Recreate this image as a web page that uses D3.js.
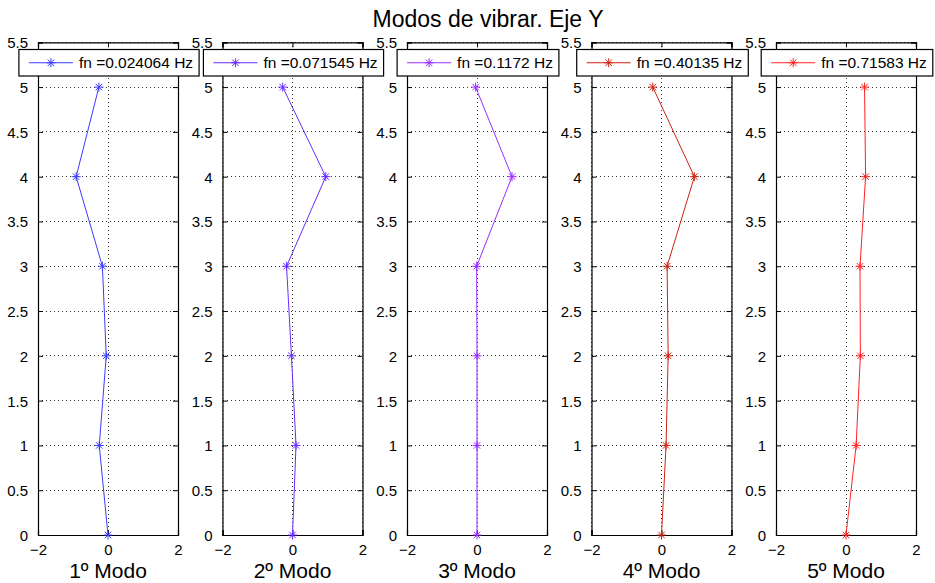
<!DOCTYPE html>
<html><head><meta charset="utf-8">
<script src="https://cdn.jsdelivr.net/npm/d3@7"></script>
<style>
body{margin:0;background:#fff}
text{font-family:"Liberation Sans",Arial,Helvetica,sans-serif;fill:#000}
</style>
</head><body>
<svg id="c" width="935" height="583"></svg>
<script>
const title = "Modos de vibrar. Eje Y";
const floors = [0, 1, 2, 3, 4, 5];
const modeLabels = ["1º Modo", "2º Modo", "3º Modo", "4º Modo", "5º Modo"];
const legendLabels = ["fn =0.024064 Hz", "fn =0.071545 Hz", "fn =0.1172 Hz", "fn =0.40135 Hz", "fn =0.71583 Hz"];
const mode1 = [0, -0.25, -0.05, -0.16, -0.91, -0.26];
const mode2 = [0, 0.10, -0.03, -0.17, 0.95, -0.28];
const mode3 = [0, 0, 0, -0.01, 1.00, -0.04];
const mode4 = [0, 0.13, 0.19, 0.16, 0.94, -0.25];
const mode5 = [0, 0.29, 0.41, 0.40, 0.56, 0.53];
const modes = [mode1, mode2, mode3, mode4, mode5];
const colors = ["#3b3bff", "#6a2cff", "#9a2cff", "#cc2211", "#ff2222"];
const xTicks = [-2, 0, 2];
const yTicks = [0, 0.5, 1, 1.5, 2, 2.5, 3, 3.5, 4, 4.5, 5, 5.5];

const svg = d3.select("#c");
const axTop = 42.3, axBottom = 535, axW = 140, firstLeft = 38, step = 184.5;

const y = d3.scaleLinear().domain([0, 5.5]).range([axBottom, axTop]);

svg.append("text").attr("x", 488).attr("y", 27).attr("text-anchor", "middle")
  .style("font-size", "23px").text(title);

const star = (s) => {
  const d = s * 0.72;
  return `M${-s},0L${s},0M0,${-s}L0,${s}M${-d},${-d}L${d},${d}M${-d},${d}L${d},${-d}`;
};

modes.forEach((vals, i) => {
  const left = firstLeft + i * step;
  const x = d3.scaleLinear().domain([-2, 2]).range([left, left + axW]);
  const g = svg.append("g");
  g.append("rect").attr("x", left).attr("y", axTop).attr("width", axW).attr("height", axBottom - axTop).attr("fill", "#fff");
  g.selectAll(".hg").data(yTicks).enter().append("line")
    .attr("x1", left).attr("x2", left + axW).attr("y1", d => y(d)).attr("y2", d => y(d))
    .attr("stroke", "#333").attr("stroke-width", 1).attr("stroke-dasharray", "1,3").attr("shape-rendering", "crispEdges");
  g.selectAll(".vg").data(xTicks).enter().append("line")
    .attr("x1", d => x(d)).attr("x2", d => x(d)).attr("y1", axTop).attr("y2", axBottom)
    .attr("stroke", "#333").attr("stroke-width", 1).attr("stroke-dasharray", "1,3").attr("shape-rendering", "crispEdges");
  const yl = d3.axisLeft(y).tickValues(yTicks).tickSize(-5).tickPadding(10).tickFormat(d3.format("~g"));
  const yr = d3.axisRight(y).tickValues(yTicks).tickSize(-5).tickFormat("");
  const xb = d3.axisBottom(x).tickValues(xTicks).tickSize(-5).tickPadding(9).tickFormat(d => d < 0 ? "\u2212" + Math.abs(d) : d);
  const xt = d3.axisTop(x).tickValues(xTicks).tickSize(-5).tickFormat("");
  const gl = g.append("g").attr("transform", `translate(${left},0)`).call(yl);
  const gr = g.append("g").attr("transform", `translate(${left + axW},0)`).call(yr);
  const gb = g.append("g").attr("transform", `translate(0,${axBottom})`).call(xb);
  const gt = g.append("g").attr("transform", `translate(0,${axTop})`).call(xt);
  [gl, gr, gb, gt].forEach(a => {
    a.attr("font-size", null).attr("font-family", null);
    a.select(".domain").attr("stroke", "#000").attr("stroke-width", 1.2);
    a.selectAll(".tick line").attr("stroke", "#000");
    a.selectAll(".tick text").style("font-size", "15px").attr("fill", "#000");
  });
  gl.selectAll(".tick text").attr("dy", "0.36em");
  const pts = vals.map((v, k) => [v, floors[k]]);
  g.append("path").datum(pts)
    .attr("d", d3.line().x(d => x(d[0])).y(d => y(d[1])))
    .attr("fill", "none").attr("stroke", colors[i]).attr("stroke-width", 1);
  g.selectAll(".mk").data(pts).enter().append("path")
    .attr("transform", d => `translate(${x(d[0])},${y(d[1])})`)
    .attr("d", star(4.5)).attr("fill", "none").attr("stroke", colors[i]).attr("stroke-width", 1);
  g.append("text").attr("x", left + axW / 2).attr("y", 578).attr("text-anchor", "middle")
    .style("font-size", "21px").text(modeLabels[i]);
  const lg = g.append("g");
  const txt = lg.append("text").style("font-size", "15.5px").text(legendLabels[i]);
  const tw = txt.node().getComputedTextLength();
  const lw = 10 + 44 + 6 + tw + 6;
  const lx = left + axW / 2 + 1 - lw / 2;
  const ly = 49.5, lh = 26.5;
  lg.insert("rect", "text").attr("x", lx).attr("y", ly).attr("width", lw).attr("height", lh)
    .attr("fill", "#fff").attr("stroke", "#000").attr("stroke-width", 1.2);
  lg.append("line").attr("x1", lx + 10).attr("x2", lx + 54).attr("y1", ly + lh / 2).attr("y2", ly + lh / 2)
    .attr("stroke", colors[i]).attr("stroke-width", 1);
  lg.append("path").attr("transform", `translate(${lx + 32},${ly + lh / 2})`).attr("d", star(4.5))
    .attr("fill", "none").attr("stroke", colors[i]).attr("stroke-width", 1);
  txt.attr("x", lx + 60).attr("y", ly + lh / 2).attr("dy", "0.36em");
});
</script>
</body></html>
